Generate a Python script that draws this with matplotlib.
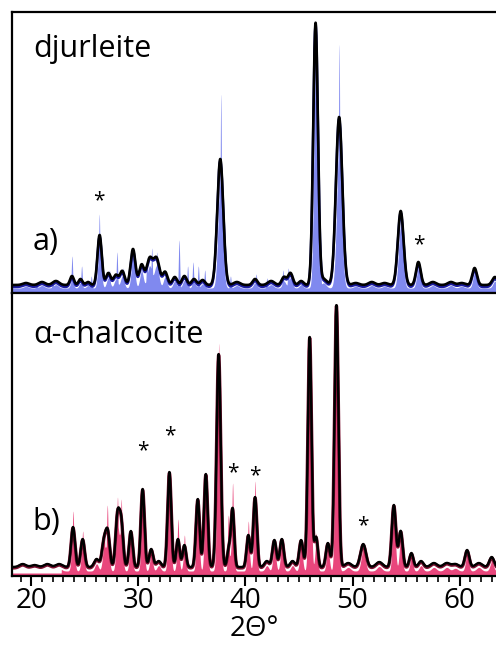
import numpy as np
import matplotlib.pyplot as plt
from matplotlib.ticker import MultipleLocator

plt.rcParams['font.family'] = ['Open Sans', 'DejaVu Sans']

# ======================
# peak lists (2theta, height, width)
# ======================
# --- djurleite, measured (black)
dj_pos = [19.5, 21.0, 22.3, 23.8, 24.6, 25.3, 26.38, 27.2, 27.9, 28.5, 29.5, 30.3,
          31.05, 31.7, 32.5, 33.4, 34.3, 35.2, 36.0, 37.65, 39.2, 40.9, 42.4, 43.6,
          44.2, 45.2, 46.55, 47.3, 48.75, 50.3, 51.8, 53.0, 54.5, 56.15, 57.5, 59.2,
          60.2, 61.4, 63.3]
dj_amp = [2, 3, 4, 9, 6, 3, 50, 12, 10, 14, 36, 20, 26, 26, 13, 8, 9, 6, 5, 126, 3, 6,
          4, 8, 12, 4, 262, 6, 168, 2, 3, 2, 74, 23, 3, 3, 2, 17, 8]
dj_wid = [0.3, 0.3, 0.3, 0.18, 0.18, 0.2, 0.2, 0.22, 0.22, 0.22, 0.22, 0.22, 0.28, 0.28,
          0.22, 0.22, 0.22, 0.22, 0.22, 0.28, 0.3, 0.22, 0.3, 0.22, 0.22, 0.22, 0.22, 0.3,
          0.3, 0.3, 0.3, 0.3, 0.27, 0.22, 0.3, 0.3, 0.3, 0.22, 0.25]
dj_base = 8

# --- djurleite, reference pattern (blue)
djr_pos = [20.5, 22.0, 23.8, 24.7, 25.6, 26.35, 27.3, 28.0, 28.6, 29.4, 30.3, 30.8,
           31.25, 31.75, 32.6, 33.8, 34.6, 35.1, 35.6, 36.2, 37.7, 38.6, 41.0, 42.0,
           43.5, 44.0, 44.4, 45.3, 46.5, 47.0, 48.75, 54.5, 56.2, 61.4]
djr_amp = [6, 8, 32, 22, 12, 74, 18, 36, 20, 38, 26, 30, 40, 36, 14, 48, 22, 26, 22,
           18, 194, 12, 14, 10, 18, 20, 14, 8, 210, 20, 244, 46, 22, 20]
djr_base = 5

# --- alpha-chalcocite, measured (black)
ch_pos = [19.2, 20.3, 21.5, 22.6, 23.9, 24.8, 26.1, 26.8, 27.15, 28.05, 28.4, 29.3,
          30.4, 31.2, 31.9, 32.9, 33.7, 34.3, 35.55, 36.3, 37.5, 38.45, 38.8, 40.27,
          40.9, 42.0, 42.7, 43.4, 44.4, 45.2, 46.0, 46.6, 47.7, 48.5, 49.6, 51.0,
          52.5, 53.86, 54.5, 55.5, 56.4, 57.6, 58.8, 59.6, 60.7, 61.8, 63.0]
ch_amp = [3, 2, 3, 3, 40, 28, 8, 26, 32, 50, 44, 36, 78, 18, 6, 95, 28, 22, 68, 93,
          213, 18, 58, 32, 70, 6, 27, 28, 6, 27, 230, 30, 24, 262, 4, 23, 5, 62, 36,
          14, 6, 4, 4, 3, 17, 4, 10]
ch_wid = [0.3, 0.3, 0.3, 0.3, 0.18, 0.18, 0.22, 0.2, 0.18, 0.18, 0.18, 0.17, 0.17,
          0.18, 0.22, 0.17, 0.16, 0.16, 0.17, 0.17, 0.19, 0.15, 0.15, 0.16, 0.17, 0.22,
          0.18, 0.18, 0.22, 0.18, 0.17, 0.16, 0.18, 0.18, 0.3, 0.26, 0.3, 0.19, 0.18,
          0.18, 0.22, 0.3, 0.3, 0.3, 0.2, 0.3, 0.22]
ch_base = 9

# --- alpha-chalcocite, reference pattern (pink)
chr_pos = [23.9, 24.8, 26.8, 27.1, 28.05, 28.4, 29.3, 30.4, 31.2, 32.9, 33.7, 34.3,
           35.55, 36.3, 37.5, 38.4, 38.8, 40.27, 40.9, 42.7, 43.4, 45.2, 46.0, 46.6,
           47.7, 48.5, 51.0, 53.86, 54.5, 55.5, 60.7, 63.0]
chr_amp = [60, 40, 40, 66, 74, 72, 32, 82, 20, 100, 52, 36, 66, 92, 228, 56, 88, 50,
           90, 30, 32, 32, 225, 38, 28, 255, 28, 60, 40, 18, 22, 14]
chr_start = 22.8
chr_base = 5

# --- asterisks (2theta, height)
dj_star_x = [26.35, 56.2]
dj_star_y = [92, 48]
ch_star_x = [30.4, 32.9, 38.8, 40.9, 51.0]
ch_star_y = [125, 140, 103, 100, 50]

x = np.linspace(18, 64, 4000)


def profile(pos, amp, wid):
    y = np.zeros_like(x)
    for p, a, w in zip(pos, amp, wid):
        y += a * np.exp(-0.5 * ((x - p) / w) ** 2)
    return y


# ======================
# figure
# ======================
fig = plt.figure(figsize=(4.96, 6.45), dpi=100)
ax1 = fig.add_axes([12 / 496, 1 - 293 / 645, 1 - 12 / 496, 281 / 645])
ax2 = fig.add_axes([12 / 496, 1 - 576 / 645, 1 - 12 / 496, 283 / 645])

# top: djurleite
dj = dj_base + profile(dj_pos, dj_amp, dj_wid)
djr = np.maximum(djr_base + profile(dj_pos, 0.85 * np.array(dj_amp), 0.75 * np.array(dj_wid)),
                 djr_base + profile(djr_pos, djr_amp, [0.06] * len(djr_pos)))
ax1.fill_between(x, 0, djr, color='#8089ef', lw=0)
ax1.plot(x, dj - 2, color='#1a1a9e', lw=1.8)
ax1.plot(x, dj, color='black', lw=1.9)
for sx, sy in zip(dj_star_x, dj_star_y):
    ax1.text(sx, sy, '*', fontsize=15, ha='center', va='center')
ax1.set_ylim(0, 281)
ax1.text(0.043, 0.84, 'djurleite', transform=ax1.transAxes, fontsize=22, va='baseline')
ax1.text(0.043, 0.153, 'a)', transform=ax1.transAxes, fontsize=22, va='baseline')

# bottom: alpha-chalcocite
ch = ch_base + profile(ch_pos, ch_amp, ch_wid)
chr_base_line = np.where(x > chr_start, chr_base, 2)
chr_ = np.maximum(chr_base_line + profile(ch_pos, 0.9 * np.array(ch_amp), 0.75 * np.array(ch_wid)),
                  chr_base_line + profile(chr_pos, chr_amp, [0.07] * len(chr_pos)))
chr_ = np.where(x > chr_start, chr_, 3)
ax2.fill_between(x, 0, chr_, color='#e9467c', lw=0)
ax2.plot(x, ch - 1, color='#7a1030', lw=2.4)
ax2.plot(x, ch, color='black', lw=1.7)
for sx, sy in zip(ch_star_x, ch_star_y):
    ax2.text(sx, sy, '*', fontsize=15, ha='center', va='center')
ax2.set_ylim(0, 283)
ax2.text(0.043, 0.823, 'α-chalcocite', transform=ax2.transAxes, fontsize=22, va='baseline')
ax2.text(0.043, 0.163, 'b)', transform=ax2.transAxes, fontsize=22, va='baseline')

for ax in (ax1, ax2):
    ax.set_xlim(18.2, 63.4)
    ax.set_yticks([])
    ax.spines['right'].set_visible(False)
    for s in ('top', 'left', 'bottom'):
        ax.spines[s].set_linewidth(1.6)

ax1.spines['bottom'].set_color('#1a1a9e')
ax1.tick_params(axis='x', which='both', bottom=False, labelbottom=False)

ax2.xaxis.set_major_locator(MultipleLocator(10))
ax2.xaxis.set_minor_locator(MultipleLocator(1))
ax2.tick_params(axis='x', which='major', length=7, width=1.5, labelsize=20, pad=1)
ax2.tick_params(axis='x', which='minor', length=4, width=1.2)
ax2.set_xlabel('2Θ°', fontsize=20, labelpad=0)

plt.savefig('out.png', dpi=100)
